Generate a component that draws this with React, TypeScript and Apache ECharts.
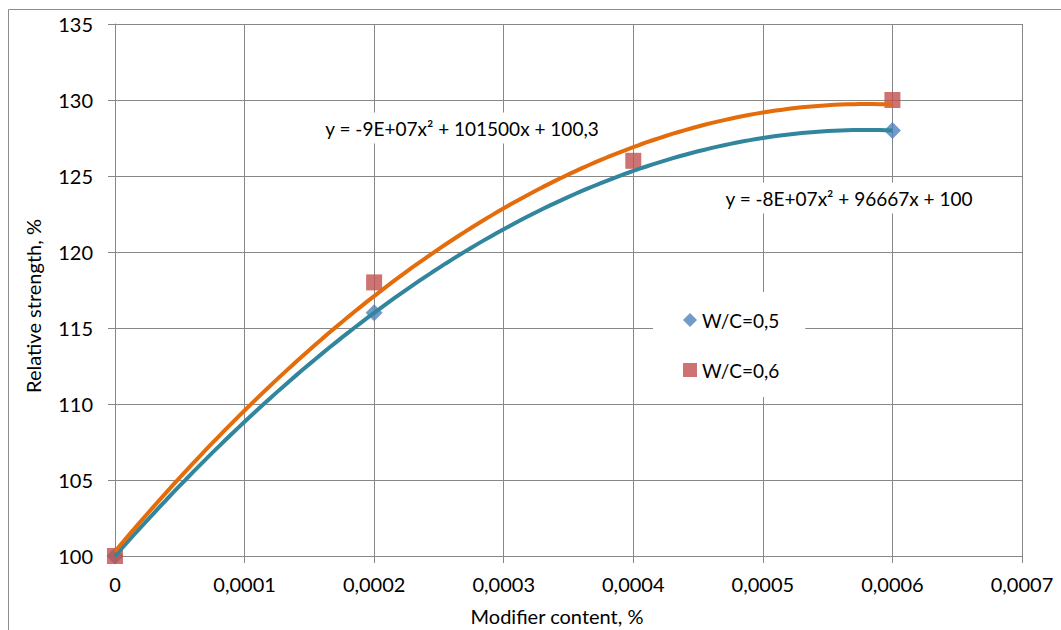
import React, { useEffect, useRef } from "react";
import * as echarts from "echarts";

// ---- data ----
const seriesNames = ["W/C=0,5", "W/C=0,6"];
const wc05X = [0, 0.0002, 0.0006];
const wc05Y = [100, 116, 128];
const wc06X = [0, 0.0002, 0.0004, 0.0006];
const wc06Y = [100, 118, 126, 130];
const equationLabels = [
  "y = -8E+07x² + 96667x + 100",
  "y = -9E+07x² + 101500x + 100,3",
];
const xAxisTitle = "Modifier content, %";
const yAxisTitle = "Relative strength, %";

// least squares quadratic regression (x scaled for stability)
function quadFit(xs: number[], ys: number[]): number[] {
  const k = 1e4;
  const s = [0, 0, 0, 0, 0];
  const t = [0, 0, 0];
  xs.forEach((x0, i) => {
    const x = x0 * k;
    for (let p = 0; p <= 4; p++) s[p] += Math.pow(x, p);
    for (let p = 0; p <= 2; p++) t[p] += Math.pow(x, p) * ys[i];
  });
  const m = [
    [s[0], s[1], s[2], t[0]],
    [s[1], s[2], s[3], t[1]],
    [s[2], s[3], s[4], t[2]],
  ];
  for (let c = 0; c < 3; c++) {
    let piv = c;
    for (let r = c + 1; r < 3; r++) if (Math.abs(m[r][c]) > Math.abs(m[piv][c])) piv = r;
    const tmp = m[c];
    m[c] = m[piv];
    m[piv] = tmp;
    for (let r = 0; r < 3; r++) {
      if (r === c) continue;
      const f = m[r][c] / m[c][c];
      for (let j = c; j < 4; j++) m[r][j] -= f * m[c][j];
    }
  }
  const a = m[0][3] / m[0][0];
  const b = m[1][3] / m[1][1];
  const cc = m[2][3] / m[2][2];
  return [a, b * k, cc * k * k];
}

function trend(xs: number[], ys: number[]): number[][] {
  const [a, b, c] = quadFit(xs, ys);
  const lo = Math.min(...xs);
  const hi = Math.max(...xs);
  const n = 120;
  const out: number[][] = [];
  for (let i = 0; i <= n; i++) {
    const x = lo + ((hi - lo) * i) / n;
    out.push([x, a + b * x + c * x * x]);
  }
  return out;
}

const FONT = "Lato, 'Liberation Sans', sans-serif";
const GRID = "#878787";

export default function App() {
  const ref = useRef<HTMLDivElement>(null);
  useEffect(() => {
    if (!ref.current) return;
    const chart = echarts.init(ref.current, undefined, { renderer: "svg" });
    const option: any = {
      animation: false,
      backgroundColor: "#fff",
      textStyle: { fontFamily: FONT },
      grid: { left: 115, top: 24, right: 39, bottom: 74, containLabel: false },
      xAxis: {
        type: "value",
        min: 0,
        max: 0.0007,
        interval: 0.0001,
        axisLine: { show: true, onZero: false, lineStyle: { color: GRID, width: 1 } },
        axisTick: { show: true, length: 7, lineStyle: { color: GRID } },
        splitLine: { show: true, lineStyle: { color: GRID, width: 1 } },
        axisLabel: {
          margin: 18,
          color: "#000",
          fontSize: 20,
          fontFamily: FONT,
          formatter: (v: number) => (v === 0 ? "0" : v.toFixed(4).replace(".", ",")),
        },
      },
      yAxis: {
        type: "value",
        min: 100,
        max: 135,
        interval: 5,
        axisLine: { show: true, lineStyle: { color: GRID, width: 1 } },
        axisTick: { show: true, length: 7, lineStyle: { color: GRID } },
        splitLine: { show: true, lineStyle: { color: GRID, width: 1 } },
        axisLabel: { margin: 22, color: "#000", fontSize: 20, fontFamily: FONT },
      },
      legend: {
        orient: "vertical",
        left: 653,
        top: 292,
        padding: [18, 26, 17, 30],
        itemGap: 30,
        itemWidth: 14,
        itemHeight: 14,
        backgroundColor: "#fff",
        textStyle: { fontSize: 19, color: "#000", fontFamily: FONT, lineHeight: 20 },
        data: [
          { name: seriesNames[0], icon: "diamond", itemStyle: { color: "#4F81BD" } },
          { name: seriesNames[1], icon: "rect", itemStyle: { color: "#C0504D" } },
        ],
      },
      series: [
        {
          name: seriesNames[0],
          type: "scatter",
          symbol: "diamond",
          symbolSize: 17,
          itemStyle: { color: "#4F81BD" },
          data: wc05X.map((x, i) => [x, wc05Y[i]]),
          z: 2,
        },
        {
          name: seriesNames[1],
          type: "scatter",
          symbol: "rect",
          symbolSize: 16,
          itemStyle: { color: "#C0504D" },
          data: wc06X.map((x, i) => [x, wc06Y[i]]),
          z: 2,
        },
        {
          name: "trend05",
          type: "line",
          showSymbol: false,
          symbol: "none",
          lineStyle: { color: "#31859C", width: 4 },
          data: trend(wc05X, wc05Y),
          z: 3,
        },
        {
          name: "trend06",
          type: "line",
          showSymbol: false,
          symbol: "none",
          lineStyle: { color: "#E46C0A", width: 4 },
          data: trend(wc06X, wc06Y),
          z: 4,
        },
      ],
      graphic: [
        {
          type: "line",
          silent: true,
          shape: { x1: 8.5, y1: 9.5, x2: 1061, y2: 9.5 },
          style: { stroke: "#8c8c8c", lineWidth: 1 },
        },
        {
          type: "line",
          silent: true,
          shape: { x1: 8.5, y1: 9.5, x2: 8.5, y2: 630 },
          style: { stroke: "#8c8c8c", lineWidth: 1 },
        },
        {
          type: "text",
          x: 462,
          y: 128,
          z: 10,
          style: {
            text: equationLabels[1],
            fontSize: 19,
            fontFamily: FONT,
            fill: "#000",
            align: "center",
            verticalAlign: "middle",
            backgroundColor: "#fff",
            padding: [6, 4, 6, 4],
          },
        },
        {
          type: "text",
          x: 849,
          y: 198,
          z: 10,
          style: {
            text: equationLabels[0],
            fontSize: 19,
            fontFamily: FONT,
            fill: "#000",
            align: "center",
            verticalAlign: "middle",
            backgroundColor: "#fff",
            padding: [6, 4, 6, 4],
          },
        },
        {
          type: "text",
          x: 33,
          y: 306,
          rotation: Math.PI / 2,
          style: {
            text: yAxisTitle,
            fontSize: 20,
            fontFamily: FONT,
            fill: "#000",
            align: "center",
            verticalAlign: "middle",
          },
        },
        {
          type: "text",
          x: 557,
          y: 616,
          style: {
            text: xAxisTitle,
            fontSize: 20,
            fontFamily: FONT,
            fill: "#000",
            align: "center",
            verticalAlign: "middle",
          },
        },
      ],
    };
    chart.setOption(option);
    return () => chart.dispose();
  }, []);
  return (
    <div
      ref={ref}
      style={{ position: "fixed", left: 0, top: 0, width: 1061, height: 630, overflow: "hidden" }}
    />
  );
}
